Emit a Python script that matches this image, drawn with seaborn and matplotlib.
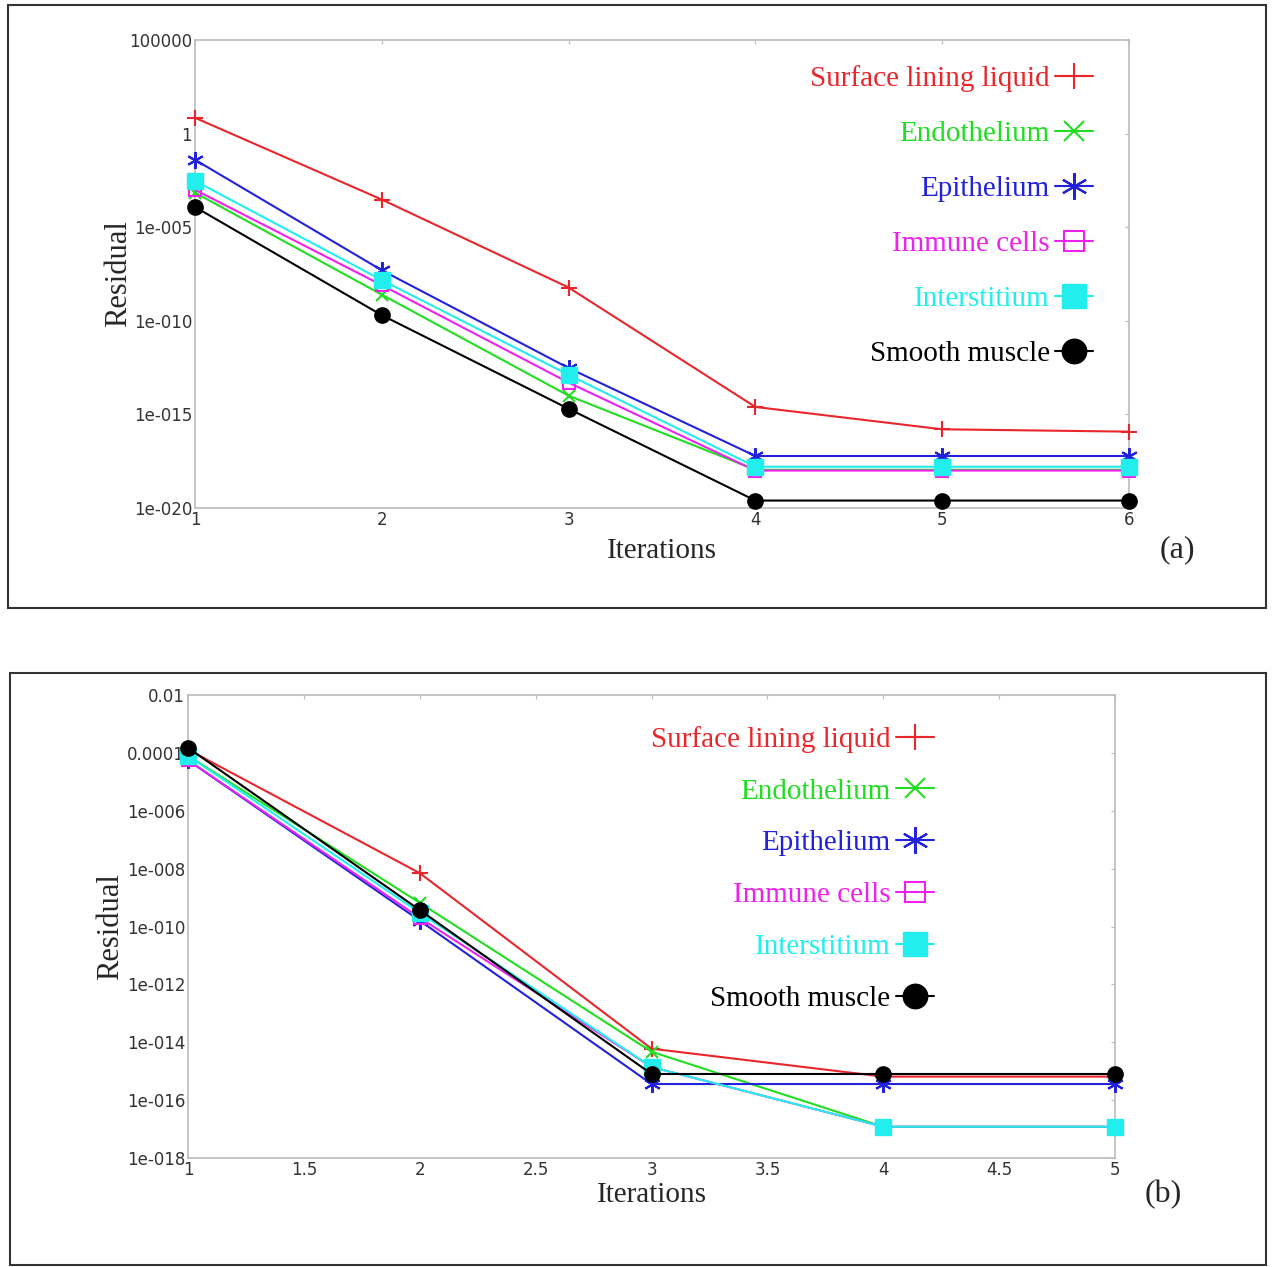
import numpy as np
import pandas as pd
import matplotlib
matplotlib.use('Agg')
import matplotlib.pyplot as plt
import seaborn as sns
from matplotlib.patches import Rectangle

# Series names and styles
names = ['Surface lining liquid', 'Endothelium', 'Epithelium', 'Immune cells', 'Interstitium', 'Smooth muscle']
colors = ['#e8262b', '#22dd22', '#2222dd', '#ee22ee', '#22eeee', '#000000']

# Panel (a) data
iters_a = [1, 2, 3, 4, 5, 6]
sll_a = [7.0, 3e-4, 6e-9, 2.5e-15, 1.6e-16, 1.2e-16]
endo_a = [7e-4, 2.5e-9, 1e-14, 1.1e-18, 1.1e-18, 1.1e-18]
epi_a = [0.04, 5e-8, 3e-13, 6e-18, 6e-18, 6e-18]
imm_a = [1e-3, 8e-9, 5e-14, 1e-18, 1e-18, 1e-18]
inter_a = [3e-3, 1.5e-8, 1.3e-13, 1.6e-18, 1.6e-18, 1.6e-18]
smooth_a = [1.2e-4, 2e-10, 2e-15, 2.5e-20, 2.5e-20, 2.5e-20]
yticks_a = [1e5, 1, 1e-5, 1e-10, 1e-15, 1e-20]
yticklabels_a = ['100000', '1', '1e-005', '1e-010', '1e-015', '1e-020']

# Panel (b) data
iters_b = [1, 2, 3, 4, 5]
sll_b = [1.3e-4, 7e-9, 6e-15, 6.5e-16, 6.5e-16]
endo_b = [8e-5, 6.6e-10, 4.7e-15, 1.2e-17, 1.2e-17]
epi_b = [5.6e-5, 1.6e-10, 3.6e-16, 3.6e-16, 3.6e-16]
imm_b = [5.6e-5, 2e-10, 1.4e-15, 1.2e-17, 1.2e-17]
inter_b = [8e-5, 3e-10, 1.4e-15, 1.2e-17, 1.2e-17]
smooth_b = [1.5e-4, 3.7e-10, 8e-16, 8e-16, 8e-16]
yticks_b = [1e-2, 1e-4, 1e-6, 1e-8, 1e-10, 1e-12, 1e-14, 1e-16, 1e-18]
yticklabels_b = ['0.01', '0.0001', '1e-006', '1e-008', '1e-010', '1e-012', '1e-014', '1e-016', '1e-018']

markers = [dict(marker='+', ms=12, mew=1.5),
           dict(marker='x', ms=9, mew=1.5),
           dict(marker=(6, 2, 0), ms=12, mew=1.5),
           dict(marker='s', ms=9, mew=1.5, fillstyle='none'),
           dict(marker='s', ms=11, mew=1.0),
           dict(marker='o', ms=11, mew=1.0)]

sns.set_style('white')
plt.rcParams['font.family'] = ['Liberation Serif', 'DejaVu Serif']

fig = plt.figure(figsize=(12.74, 12.67), dpi=100)
W, H = 1274, 1267

# outer frames of both panels
fig.patches.append(Rectangle((8 / W, 1 - 608 / H), 1258 / W, 603 / H, transform=fig.transFigure,
                             fill=False, edgecolor='#333333', linewidth=1.5))
fig.patches.append(Rectangle((10 / W, 1 - 1265 / H), 1256 / W, 592 / H, transform=fig.transFigure,
                             fill=False, edgecolor='#333333', linewidth=1.5))

ax_a = fig.add_axes([195 / W, 1 - 508 / H, 934 / W, 468 / H])
ax_b = fig.add_axes([188 / W, 1 - 1158 / H, 927 / W, 463 / H])


def draw_panel(ax, iters, series, yticks, ylabels, xticks, xlim, ylim, leg_anchor, spacing, ypad, xpad):
    for name, vals, col, mk in zip(names, series, colors, markers):
        df = pd.DataFrame({'Iterations': iters, 'Residual': vals})
        sns.lineplot(data=df, x='Iterations', y='Residual', ax=ax, color=col, lw=1.5,
                     label=name, mec=col, clip_on=False, zorder=3, **mk)
    ax.set_yscale('log')
    ax.set_xlim(*xlim)
    ax.set_ylim(*ylim)
    ax.set_yticks(yticks)
    ax.set_yticklabels(ylabels, family='DejaVu Sans', fontsize=12, color='#333333')
    ax.set_xticks(xticks)
    ax.set_xticklabels([('%g' % t) for t in xticks], family='DejaVu Sans', fontsize=12, color='#333333')
    ax.minorticks_off()
    ax.tick_params(direction='in', length=3, color='#bbbbbb', pad=2, top=True, right=True)
    for s in ax.spines.values():
        s.set_color('#bbbbbb')
        s.set_linewidth(1.2)
    ax.set_xlabel('Iterations', fontsize=21, labelpad=xpad)
    ax.set_ylabel('Residual', fontsize=22, labelpad=ypad)
    leg = ax.legend(loc='upper right', bbox_to_anchor=leg_anchor, frameon=False, markerfirst=False,
                    fontsize=21, labelspacing=spacing, handlelength=1.3, handletextpad=0.2,
                    markerscale=1.6, labelcolor='linecolor')
    return leg


draw_panel(ax_a, iters_a, [sll_a, endo_a, epi_a, imm_a, inter_a, smooth_a],
           yticks_a, yticklabels_a, iters_a, (1, 6), (1e-20, 1e5), (0.99, 1.003), 0.98, -2.5, 7)
draw_panel(ax_b, iters_b, [sll_b, endo_b, epi_b, imm_b, inter_b, smooth_b],
           yticks_b, yticklabels_b, [1, 1.5, 2, 2.5, 3, 3.5, 4, 4.5, 5], (1, 5), (1e-18, 1e-2),
           (0.833, 0.99), 0.87, 1, 2)

fig.text(1177 / W, 1 - 550 / H, '(a)', fontsize=23, ha='center', va='center')
fig.text(1163 / W, 1 - 1195 / H, '(b)', fontsize=23, ha='center', va='center')

fig.savefig('out.png', dpi=100)
